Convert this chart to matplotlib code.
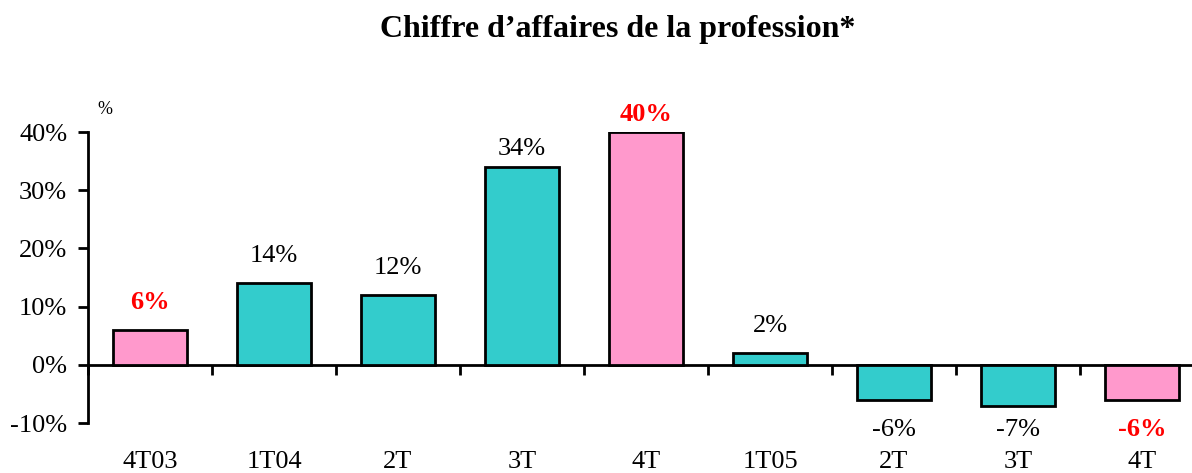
import matplotlib
matplotlib.use("Agg")
import matplotlib.pyplot as plt
from matplotlib.ticker import FuncFormatter, FixedLocator
import matplotlib.transforms as mtransforms

categories = ["4T03", "1T04", "2T", "3T", "4T", "1T05", "2T", "3T", "4T"]
values = [6, 14, 12, 34, 40, 2, -6, -7, -6]
highlight = [True, False, False, False, True, False, False, False, True]

TEAL = "#33CCCC"
PINK = "#FF99CC"

plt.rcParams["font.family"] = ["Liberation Serif", "DejaVu Serif"]

fig = plt.figure(figsize=(11.92, 4.73), dpi=100)
# axis runs past the right edge of the picture, as in the original
ax = fig.add_axes([88 / 1192, 1 - 423 / 473, 1116 / 1192, 291 / 473])

x = list(range(len(categories)))
colors = [PINK if h else TEAL for h in highlight]
ax.bar(x, values, width=0.59, color=colors, edgecolor="black", linewidth=2, zorder=3)

ax.set_xlim(-0.5, len(categories) - 0.5)
ax.set_ylim(-10, 40)

ax.spines["top"].set_visible(False)
ax.spines["right"].set_visible(False)
ax.spines["bottom"].set_position(("data", 0))
ax.spines["bottom"].set_linewidth(2)
ax.spines["left"].set_linewidth(2)

ax.yaxis.set_major_locator(FixedLocator([-10, 0, 10, 20, 30, 40]))
ax.yaxis.set_major_formatter(FuncFormatter(lambda v, p: f"{v:.0f}%"))
ax.tick_params(axis="y", direction="out", length=7, width=2, labelsize=19, pad=8)

ax.xaxis.set_major_locator(FixedLocator([i - 0.5 for i in x]))
ax.tick_params(axis="x", direction="out", length=7, width=2, labelbottom=False)

trans = mtransforms.blended_transform_factory(ax.transData, fig.transFigure)
for i, (cat, v, h) in enumerate(zip(categories, values, highlight)):
    ax.text(i, 1 - 462 / 473, cat, transform=trans, ha="center", va="center", fontsize=19)
    style = dict(color="red", fontweight="bold") if h else dict(color="black")
    if v >= 0:
        # tall bars get their label squeezed closer, as in the source chart
        offset = 4.7 if v < 30 else 3.0
        ax.text(i, v + offset, f"{v}%", ha="center", va="center", fontsize=19, **style)
    else:
        ax.text(i, -11.2, f"{v}%", ha="center", va="center", fontsize=19, **style)

fig.text(105 / 1192, 1 - 110 / 473, "%", ha="center", va="center", fontsize=13)
fig.text(618 / 1192, 1 - 30 / 473, "Chiffre d\u2019affaires de la profession*",
         ha="center", va="center", fontsize=23, fontweight="bold")

fig.savefig("out.png", dpi=100)
